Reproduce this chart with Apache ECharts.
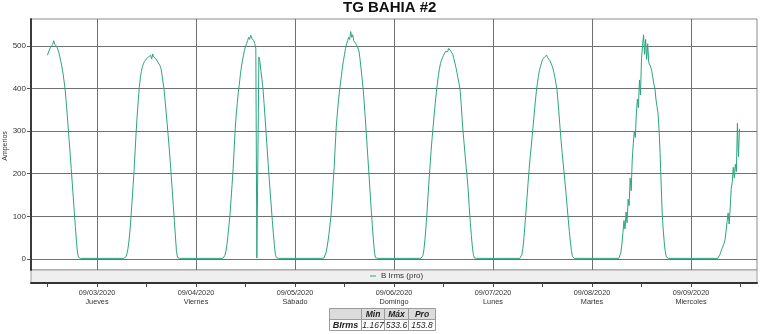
<!DOCTYPE html>
<html>
<head>
<meta charset="utf-8">
<script src="https://cdn.jsdelivr.net/npm/echarts@6/dist/echarts.min.js"></script>
<style>
html,body{margin:0;padding:0;background:#fff;}
#chart{width:762px;height:334px;}
</style>
</head>
<body>
<div id="chart"></div>
<script>
// ---- data (hours counted from 09/02/2020 00:00, one sample every 15 min) ----
const stepHours = 0.25;
const sep02Start = 12, sep02 = [478,486,490,497,494,503,512,504,507,498,492,484,474,463,450,436,418,400,372,342,310,278,245,212,178,144,110,76,44,16,4,1.6,1.3];
const sep03Start = 6.5, sep03 = [1.3,1.8,5,12,24,42,68,100,135,172,210,255,300,338,372,402,424,440,451,458,463,466,470,467,474,471,478,469,481,474,477,470,466,462,458,454,447,432,415,398,372,345,318,290,260,228,194,160,125,90,54,20,4,1.6,1.3];
const sep04Start = 6.5, sep04 = [1.3,3,8,18,34,55,80,105,140,175,212,258,305,338,365,390,410,432,450,465,478,490,498,505,512,520,515,525,518,522,512,505,494,2,1.8,474,462,440,420,398,365,330,295,258,222,188,155,122,90,60,32,10,3,1.5,1.3];
const sep05Start = 6.5, sep05 = [1.3,1.5,2,6,14,26,42,60,82,105,140,180,215,265,310,340,368,392,410,430,450,466,480,494,505,512,520,515,533.6,520,526,512,510,505,500,495,488,470,448,425,400,370,335,300,262,225,188,150,112,78,45,16,3,1.5,1.3];
const sep06Start = 6.5, sep06 = [1.3,2,8,22,45,75,110,148,185,220,255,285,312,340,365,390,410,430,445,458,466,472,478,482,487,490,486,494,497,488,492,480,470,460,450,438,425,412,398,368,330,298,270,242,215,190,160,120,85,55,28,10,2,1.5,1.3];
const sep07Start = 6.5, sep07 = [1.3,3,10,25,50,80,112,145,178,210,238,262,288,315,342,368,392,412,428,442,452,460,468,466,474,470,478,472,475,466,462,455,448,438,426,412,398,370,340,308,278,250,225,200,175,148,120,92,65,40,20,6,2,1.4,1.3];
const sep08Start = 6.5, sep08 = [1.3,4,15,35,62,90,70,110,85,140,125,190,160,232,270,300,285,340,375,355,420,385,470,500,526,480,515,468,505,462,455,450,440,425,410,400,375,358,342,305,250,180,110,70,40,18,5,1.5,1.3];
const sep09Start = 6.5, sep09 = [1.3,4,10,17,24,30,36,45,65,88,108,82,120,165,180,215,190,222,205,318,240,305];

const dayStarts = [sep02Start, sep03Start, sep04Start, sep05Start, sep06Start, sep07Start, sep08Start, sep09Start];
const dayValues = [sep02, sep03, sep04, sep05, sep06, sep07, sep08, sep09];

const dateLabels = ['09/03/2020','09/04/2020','09/05/2020','09/06/2020','09/07/2020','09/08/2020','09/09/2020'];
const weekdayLabels = ['Jueves','Viernes','Sábado','Domingo','Lunes','Martes','Miercoles'];
const dayTicks = [24,48,72,96,120,144,168];
const halfDayTicks = [12,24,36,48,60,72,84,96,108,120,132,144,156,168,180];
const yTicks = [0,100,200,300,400,500];

const seriesName = 'B Irms (pro)';
const yAxisName = 'Amperios';
const statRowName = 'BIrms';
const statNames = ['Min','Máx','Pro'];
const statValues = ['1.167','533.6','153.8'];

// ---- build points ----
const points = [];
dayValues.forEach(function (vals, d) {
  vals.forEach(function (v, i) {
    points.push([d * 24 + dayStarts[d] + i * stepHours, v]);
  });
});

const FONT = '"Liberation Sans", Arial, sans-serif';
const LINE = '#2aa582';

// ---- table graphic ----
const colX = [329.5, 361.5, 384.5, 408.5, 435.5];
const rowY = [308.5, 319.5, 330.5];
const graphics = [{
  type: 'text', x: 5, y: 146, rotation: Math.PI / 2,
  style: {text: yAxisName, align: 'center', verticalAlign: 'middle', font: '7px ' + FONT, fill: '#333'}
}];
for (let r = 0; r < 2; r++) {
  for (let c = 0; c < 4; c++) {
    graphics.push({
      type: 'rect',
      shape: {x: colX[c], y: rowY[r], width: colX[c+1]-colX[c], height: rowY[r+1]-rowY[r]},
      style: {fill: r === 0 ? '#dcdcdc' : '#ffffff', stroke: '#9a9a9a', lineWidth: 1}
    });
    let txt = null, bold = false;
    if (r === 0 && c > 0) { txt = statNames[c-1]; bold = true; }
    if (r === 1 && c === 0) { txt = statRowName; bold = true; }
    if (r === 1 && c > 0) { txt = statValues[c-1]; }
    if (txt) {
      graphics.push({
        type: 'text',
        x: (colX[c] + colX[c+1]) / 2,
        y: (rowY[r] + rowY[r+1]) / 2 + 0.5,
        style: {text: txt, align: 'center', verticalAlign: 'middle',
          font: 'italic ' + (bold ? 'bold ' : '') + (c === 0 ? '9px ' : '8.5px ') + FONT,
          fill: '#222'}
      });
    }
  }
}

const chart = echarts.init(document.getElementById('chart'), null, {renderer: 'canvas'});
chart.setOption({
  animation: false,
  backgroundColor: '#ffffff',
  title: {
    text: 'TG BAHIA #2', left: 343, top: 0, padding: 0,
    textStyle: {fontSize: 15, fontWeight: 'bold', color: '#111', fontFamily: FONT}
  },
  legend: {
    data: [seriesName], left: 370, top: 272, padding: 0,
    icon: 'rect', itemWidth: 6, itemHeight: 1,
    textStyle: {fontSize: 8, color: '#333', fontFamily: FONT}
  },
  grid: [
    {left: 31, right: 5, top: 19, height: 251, show: true, borderColor: '#8a8a8a', borderWidth: 1, backgroundColor: '#ffffff', outerBoundsMode: 'none'},
    {left: 31, right: 5, top: 270, height: 13, show: true, borderColor: '#a0a0a0', borderWidth: 1, backgroundColor: '#efefef', outerBoundsMode: 'none'}
  ],
  xAxis: [
    {
      type: 'value', gridIndex: 0, min: 8, max: 184,
      axisLine: {show: false},
      axisTick: {show: false, customValues: dayTicks},
      axisLabel: {show: false, customValues: dayTicks},
      splitLine: {show: true, lineStyle: {color: '#707070', width: 1}}
    },
    {
      type: 'value', gridIndex: 1, min: 8, max: 184, position: 'bottom',
      axisLine: {show: true, onZero: false, lineStyle: {color: '#333', width: 2}},
      axisTick: {show: true, length: 4, customValues: halfDayTicks, lineStyle: {color: '#444'}},
      axisLabel: {
        customValues: dayTicks, margin: 5, fontSize: 7.3, lineHeight: 9, color: '#333', fontFamily: FONT,
        formatter: function (v) {
          const i = Math.round(v / 24) - 1;
          return dateLabels[i] + '\n' + weekdayLabels[i];
        }
      },
      splitLine: {show: false}
    }
  ],
  yAxis: [
    {
      type: 'value', gridIndex: 0, min: -26, max: 563,
      axisLine: {show: true, onZero: false, lineStyle: {color: '#3a3a3a', width: 2}},
      axisTick: {show: true, length: 4, customValues: yTicks, lineStyle: {color: '#555'}},
      axisLabel: {customValues: yTicks, margin: 5, fontSize: 8, color: '#333', fontFamily: FONT},
      splitLine: {show: true, lineStyle: {color: '#707070', width: 1}}
    },
    {type: 'value', gridIndex: 1, min: 0, max: 1, show: false}
  ],
  series: [{
    type: 'line', name: seriesName, xAxisIndex: 0, yAxisIndex: 0,
    data: points, showSymbol: false, symbol: 'none',
    lineStyle: {width: 1, color: LINE}, itemStyle: {color: LINE},
    emphasis: {disabled: true}
  }],
  graphic: graphics
});
</script>
</body>
</html>
